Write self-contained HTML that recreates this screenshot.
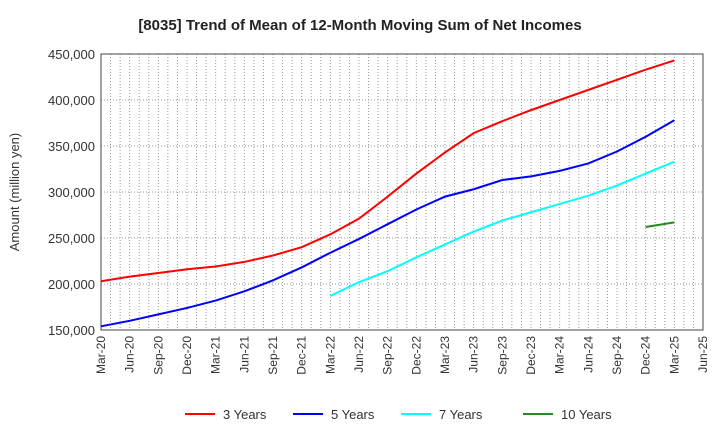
<!DOCTYPE html>
<html><head><meta charset="utf-8"><style>
body{margin:0;background:#fff;font-family:"Liberation Sans",sans-serif;}
</style></head><body>
<svg id="c" width="720" height="440" xmlns="http://www.w3.org/2000/svg" font-family="Liberation Sans, sans-serif"></svg>
<script>
const xLabels=["Mar-20","Jun-20","Sep-20","Dec-20","Mar-21","Jun-21","Sep-21","Dec-21","Mar-22","Jun-22","Sep-22","Dec-22","Mar-23","Jun-23","Sep-23","Dec-23","Mar-24","Jun-24","Sep-24","Dec-24","Mar-25","Jun-25"];
const yTicks=[150000,200000,250000,300000,350000,400000,450000];
const s3=[203000,208000,212000,216000,219000,224000,231000,240000,254000,271000,295000,320000,343000,364000,377000,389000,400000,411000,422000,433000,443000];
const s5=[154000,160000,167000,174000,182000,192000,204000,218000,234000,249000,265000,281000,295000,303000,313000,317000,323000,331000,344000,360000,378000];
const s7=[null,null,null,null,null,null,null,null,187000,202000,214000,229000,243000,257000,269000,278000,287000,296000,307000,320000,333000];
const s10=[null,null,null,null,null,null,null,null,null,null,null,null,null,null,null,null,null,null,null,262000,267000];
const L=101,R=703,T=54,B=330;
const x=i=>L+i*(R-L)/21;
const y=v=>B-(v-150000)/300000*(B-T);
const svg=document.getElementById('c');
const NS="http://www.w3.org/2000/svg";
function add(tag,at,txt){const e=document.createElementNS(NS,tag);for(const k in at)e.setAttribute(k,at[k]);if(txt!=null)e.textContent=txt;svg.appendChild(e);return e;}
let t=add('text',{x:360,y:30,'text-anchor':'middle','font-size':15,'font-weight':'bold',fill:'#222'},'[8035]  Trend of Mean of 12-Month Moving Sum of Net Incomes');


for(let m=1;m<63;m++){const xx=L+m*(R-L)/63;
 const g=add('line',{x1:xx,x2:xx,y1:T,y2:B,stroke:'#999','stroke-dasharray':'1,2','stroke-width':1});
 
 }
yTicks.forEach(v=>{const g=add('line',{x1:L,x2:R,y1:y(v),y2:y(v),stroke:'#999','stroke-dasharray':'1,2'});
 
 
 const l=add('text',{x:L-6,y:y(v)+5,'text-anchor':'end','font-size':13,fill:'#333'},v.toLocaleString('en-US'));
 
 });
xLabels.forEach((s,i)=>{const l=add('text',{transform:`translate(${x(i)+4},${B+6}) rotate(-90)`,'text-anchor':'end','font-size':12,fill:'#333'},s);
 
 });
const fr=add('rect',{x:L,y:T,width:R-L,height:B-T,fill:'none',stroke:'#444','stroke-width':1});


const yt=add('text',{transform:`translate(19,192) rotate(-90)`,'text-anchor':'middle','font-size':13,fill:'#333'},'Amount (million yen)');


const series=[[s3,'#ff0000','3 Years'],[s5,'#0000ff','5 Years'],[s7,'#00ffff','7 Years'],[s10,'#228b22','10 Years']];
series.forEach(([d,c,n])=>{let p='';d.forEach((v,i)=>{if(v!=null)p+=(p?'L':'M')+x(i)+','+y(v);});
 const e=add('path',{d:p,fill:'none',stroke:c,'stroke-width':2});
 
 });
const lx=[185,293,401,523];
series.forEach(([d,c,n],i)=>{const ln=add('line',{x1:lx[i],x2:lx[i]+30,y1:414,y2:414,stroke:c,'stroke-width':2});
 
 
 const tx=add('text',{x:lx[i]+38,y:419,'font-size':13,fill:'#333'},n);
 
 });
</script>
</body></html>
